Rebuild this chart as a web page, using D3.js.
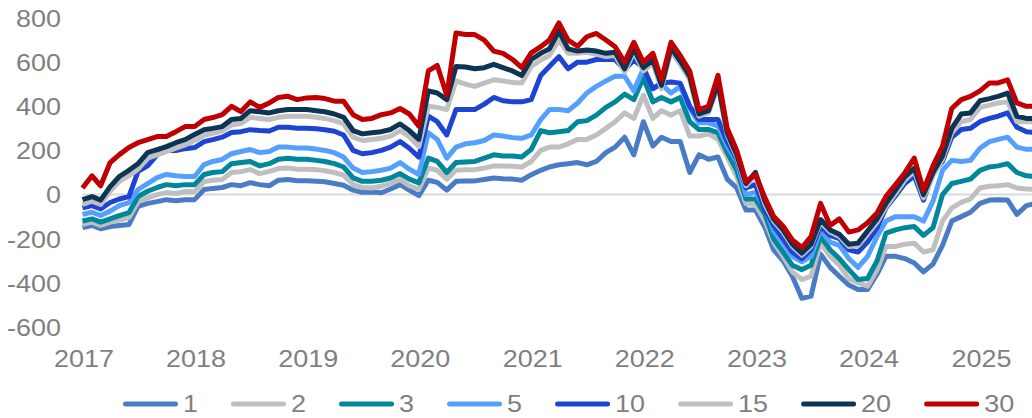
<!DOCTYPE html>
<html><head><meta charset="utf-8">
<script src="https://cdn.jsdelivr.net/npm/d3@7"></script>
<style>
html,body{margin:0;padding:0;background:#fff;}
svg{display:block;font-family:"Liberation Sans",Arial,sans-serif;}
</style></head>
<body><svg id="chart" width="1032" height="418"></svg>
<script>
// Monthly observations, Jan 2017 .. Jul 2025
const dates = d3.timeMonth.range(new Date(2017,0,1), new Date(2025,7,1));
const seriesNames = ["1","2","3","5","10","15","20","30"];
const yTicks = [-600,-400,-200,0,200,400,600,800];
const xTickYears = [2017,2018,2019,2020,2021,2022,2023,2024,2025];

const s1 = [-150,-140,-155,-145,-140,-136,-54,-40,-32,-23,-28,-23,-23,23,28,32,45,40,54,
 45,40,65,68,63,63,60,58,50,42,20,10,12,8,25,45,20,-5,
 65,55,20,60,62,62,68,75,72,70,65,90,110,125,135,140,145,135,150,190,215,
 260,180,330,220,260,240,240,100,180,160,170,70,30,-70,-70,-150,-250,
 -300,-370,-470,-460,-270,-330,-370,-410,-430,-430,-360,-280,-280,-290,-310,-350,-315,
 -230,-120,-100,-80,-40,-25,-23,-25,-90,-50,-40];
const s2 = [-135,-125,-140,-125,-115,-104,-32,-15,0,9,5,14,14,59,65,68,100,104,113,
 95,105,118,120,115,115,113,108,100,88,45,32,30,38,50,68,40,23,
 120,110,70,110,113,113,120,130,130,128,125,150,200,215,215,230,250,250,270,300,330,
 370,345,450,345,380,360,380,265,265,275,250,170,80,-40,-45,-120,-215,
 -280,-350,-385,-370,-220,-280,-320,-380,-400,-415,-340,-235,-235,-225,-220,-260,-250,
 -120,-60,-35,-20,30,38,40,45,30,25,23];
const s3 = [-120,-110,-125,-110,-95,-82,-9,15,32,45,40,45,45,91,100,104,140,145,150,
 130,140,160,165,160,160,155,150,140,125,76,60,60,65,75,95,70,53,
 165,150,100,145,148,150,165,180,175,175,170,205,290,280,285,290,330,335,360,395,420,
 455,430,530,420,440,420,440,330,295,295,280,190,110,-20,-20,-90,-200,
 -260,-320,-340,-320,-190,-250,-290,-340,-385,-380,-300,-175,-160,-150,-145,-185,-150,
 0,50,60,70,110,125,130,140,100,85,82];
const s5 = [-90,-80,-95,-75,-50,-36,23,50,77,91,85,82,82,136,150,159,185,195,204,
 190,195,215,215,211,211,206,200,190,170,120,100,104,110,120,145,115,91,
 280,250,165,215,230,235,245,270,265,258,255,270,340,385,385,380,415,460,490,515,536,
 536,470,570,480,500,460,490,390,325,325,310,220,150,0,10,-60,-165,
 -220,-280,-305,-280,-160,-215,-230,-290,-330,-280,-190,-120,-100,-100,-100,-120,-30,
 110,155,150,155,210,240,250,260,215,205,205];
const s10 = [-60,-50,-65,-36,-20,-9,105,130,180,200,200,208,213,240,249,260,281,285,294,
 290,288,305,305,300,300,298,294,287,270,200,185,190,200,215,240,210,170,
 355,330,270,385,385,385,410,440,425,420,420,430,540,580,625,570,600,600,612,612,612,
 565,610,575,480,505,510,505,400,340,340,340,240,160,30,45,-70,-140,
 -200,-260,-290,-250,-143,-185,-200,-250,-260,-215,-150,-60,-5,50,85,-25,100,
 150,260,295,300,330,345,355,370,305,285,280];
const s15 = [-45,-30,-45,15,60,85,115,165,180,195,210,225,245,268,278,288,315,322,350,
 345,340,350,355,355,355,350,345,335,320,260,245,250,255,265,290,262,218,
 400,395,385,515,500,490,505,520,515,508,505,580,610,630,700,640,640,645,635,625,630,
 555,645,560,595,480,650,590,520,355,370,490,270,170,40,85,-45,-120,
 -170,-235,-275,-235,-125,-170,-190,-235,-232,-180,-125,-55,5,65,105,-15,85,
 160,280,330,340,395,405,415,420,330,330,330];
const s20 = [-23,-9,-25,36,82,110,140,190,204,217,235,249,272,294,300,308,340,345,380,
 375,370,380,385,385,385,380,375,365,350,290,275,280,285,295,320,290,250,
 470,460,430,580,578,570,575,590,575,560,540,612,640,660,740,660,650,655,650,640,645,
 570,660,575,610,495,665,605,535,365,380,505,280,180,50,100,-30,-110,
 -160,-225,-265,-225,-113,-160,-180,-225,-220,-165,-110,-40,20,80,120,0,100,
 175,300,365,370,425,435,445,460,355,345,345];
const s30 = [30,85,40,145,181,213,235,249,263,263,285,308,308,340,349,362,400,376,420,
 395,415,440,445,430,438,440,435,423,423,362,340,345,362,370,390,365,310,
 560,585,450,732,725,725,700,650,640,612,575,642,670,700,778,700,672,715,730,700,670,
 600,690,600,640,520,690,630,560,385,400,540,300,200,60,90,-15,-98,
 -143,-205,-240,-190,-40,-140,-110,-170,-160,-128,-83,-8,45,98,165,20,130,
 220,390,430,445,470,506,506,520,415,400,400];

const seriesValues = [s1,s2,s3,s5,s10,s15,s20,s30];
const colors = ["#4A7CC6","#BFBFBF","#00879B","#55A0FF","#1D44D3","#C0C0C0","#0C3454","#C00000"];

const svg = d3.select("#chart");
svg.append("rect").attr("width",1032).attr("height",418).attr("fill","#fff");

const x = d3.scaleTime().domain([new Date(2017,0,1), new Date(2025,0,1)]).range([82.5, 980]);
const y = d3.scaleLinear().domain([-600, 800]).range([327, 18]);

const txtColor = "#7F7F7F";
const fontFam = "'Liberation Sans', Arial, sans-serif";
const fs = "24px";
const sx = 1.125;
const stretch = `scale(${sx},1)`;

// y axis labels (plain hyphen-minus)
const yAxis = d3.axisLeft(y).tickValues(yTicks).tickSize(0).tickPadding(0).tickFormat(d => String(d));
const yg = svg.append("g").attr("transform","translate(61,0)").call(yAxis).attr("font-family",fontFam);
yg.select(".domain").remove();
yg.selectAll("text").attr("fill",txtColor).style("font-size",fs).style("font-family",fontFam)
  .attr("dy","0.35em").attr("x",0).attr("transform",stretch);

// x axis labels
const xAxis = d3.axisBottom(x).tickValues(xTickYears.map(yv => new Date(yv,0,1))).tickSize(0).tickPadding(0).tickFormat(d3.timeFormat("%Y"));
const xg = svg.append("g").attr("transform","translate(1,359)").call(xAxis).attr("font-family",fontFam);
xg.select(".domain").remove();
xg.selectAll("text").attr("fill",txtColor).style("font-size",fs).style("font-family",fontFam)
  .attr("dy","0.35em").attr("y",0).attr("transform",stretch);

// clip
svg.append("clipPath").attr("id","clip").append("rect").attr("x",0).attr("y",0).attr("width",1032).attr("height",340);

// zero line
svg.append("line").attr("x1",x(new Date(2017,0,1))).attr("x2",1032).attr("y1",y(0)).attr("y2",y(0))
  .attr("stroke","#D9D9D9").attr("stroke-width",2);

const line = d3.line().x((d,i)=>x(dates[i])).y(d=>y(d)).curve(d3.curveLinear);
const lg = svg.append("g").attr("clip-path","url(#clip)");
seriesValues.forEach((vals,k)=>{
  lg.append("path").datum(vals).attr("d",line).attr("fill","none")
    .attr("stroke",colors[k]).attr("stroke-width",5).attr("stroke-linejoin","round").attr("stroke-linecap","butt");
});

// legend
const leg = svg.append("g").attr("transform","translate(0,404)");
let cx = 125.5;
seriesNames.forEach((name,k)=>{
  leg.append("line").attr("x1",cx).attr("x2",cx+50).attr("y1",0).attr("y2",0)
    .attr("stroke",colors[k]).attr("stroke-width",5).attr("stroke-linecap","round");
  const tx = cx + 57.5;
  const t = leg.append("text").attr("x",0).attr("y",0).attr("dy","0.35em")
    .attr("transform",`translate(${tx},0) ${stretch}`)
    .attr("fill",txtColor).style("font-size",fs).style("font-family",fontFam).text(name);
  const w = t.node().getComputedTextLength() * sx;
  cx = tx + w + 35.5;
});
</script>
</body></html>
